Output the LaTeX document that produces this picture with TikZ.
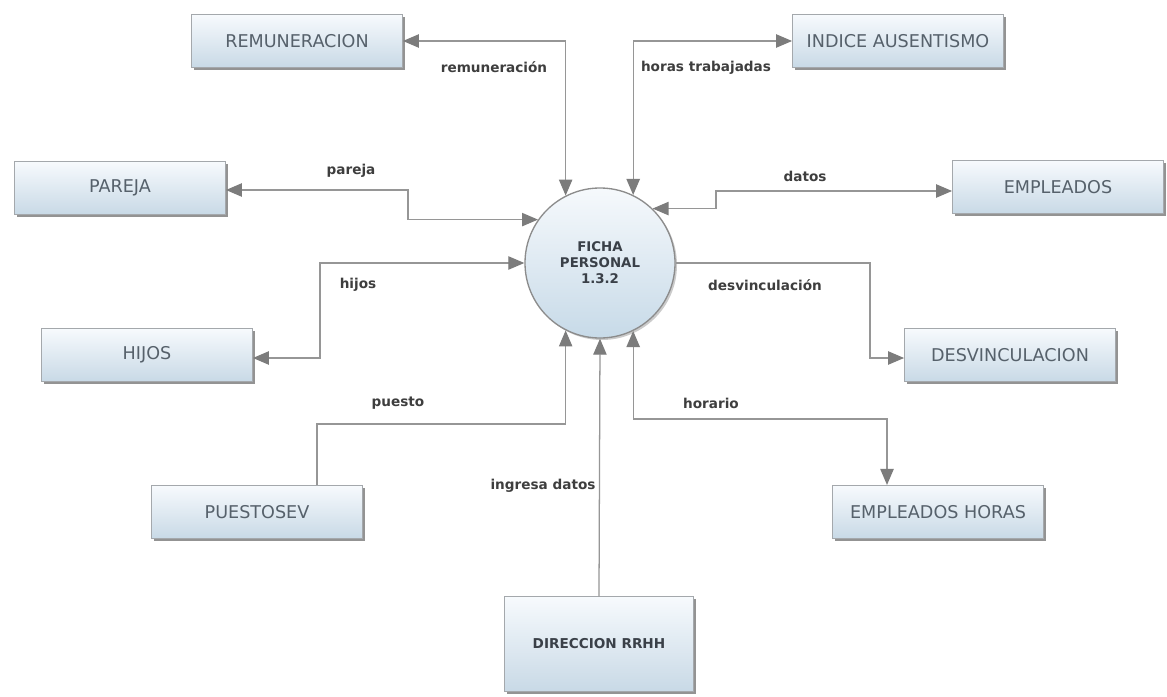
\documentclass[tikz,border=0pt]{standalone}
\usepackage{fontspec}
\setmainfont{DejaVu Sans}
\usetikzlibrary{arrows.meta,shadows,calc}
\definecolor{boxtop}{HTML}{F7FAFD}
\definecolor{boxbot}{HTML}{C8D9E6}
\definecolor{boxline}{HTML}{A4A8AC}
\definecolor{boxtext}{HTML}{56616B}
\definecolor{lbltext}{HTML}{3E3E3E}
\definecolor{flowcol}{HTML}{969696}
\definecolor{headcol}{HTML}{7C7C7C}
\definecolor{circtop}{HTML}{F6F9FC}
\definecolor{circbot}{HTML}{C7DAE8}
\definecolor{circline}{HTML}{8C8C8C}
\definecolor{strongtext}{HTML}{3A4048}
\tikzset{
  entity/.style={rectangle, draw=boxline, line width=0.6pt,
    top color=boxtop, bottom color=boxbot,
    minimum width=158.25pt, minimum height=40pt, inner sep=0pt,
    drop shadow={shadow xshift=2pt, shadow yshift=-2pt, fill=black!60, opacity=0.7},
    text=boxtext, font=\fontsize{13.2}{15}\selectfont},
  bigentity/.style={entity, minimum width=141.75pt, minimum height=71pt,
    text=strongtext, font=\bfseries\fontsize{10.2}{12}\selectfont},
  process/.style={circle, draw=circline, line width=1pt,
    top color=circtop, bottom color=circbot,
    minimum size=112.5pt, inner sep=0pt, align=center,
    drop shadow={shadow xshift=1.5pt, shadow yshift=-1.5pt, fill=black!40, opacity=0.5},
    text=strongtext, font=\bfseries\fontsize{10}{12}\selectfont},
  flowlabel/.style={inner sep=1pt, text=lbltext, font=\bfseries\fontsize{10.2}{12}\selectfont},
  flow/.style={draw=flowcol, line width=0.95pt,
    arrows={-Triangle[length=12pt, width=10pt, color=headcol]}},
  flowboth/.style={flow,
    arrows={Triangle[length=12pt, width=10pt, color=headcol]-Triangle[length=12pt, width=10pt, color=headcol]}}
}
\begin{document}
\begin{tikzpicture}[x=0.75pt,y=-0.75pt]
\useasboundingbox (0,0) rectangle (1167,696);
\fill[white] (0,0) rectangle (1167,696);

% process
\node[process] (circ) at (600,263) {FICHA\\PERSONAL\\1.3.2};

% entities
\node[entity] (rem)  at (297,41)  {REMUNERACION};
\node[entity] (ind)  at (898,41)  {INDICE AUSENTISMO};
\node[entity] (par)  at (120,188) {PAREJA};
\node[entity] (emp)  at (1058,187) {EMPLEADOS};
\node[entity] (hij)  at (147,355) {HIJOS};
\node[entity] (desv) at (1010,355) {DESVINCULACION};
\node[entity] (pue)  at (257,512) {PUESTOSEV};
\node[entity] (emph) at (938,512) {EMPLEADOS HORAS};
\node[bigentity] (dir) at (599,644) {DIRECCION RRHH};

% bend points
\coordinate (pj) at (408,190);
\coordinate (hj) at (320,358);
\coordinate (dt) at (716,191);
\coordinate (dv) at (870,358);
\coordinate (pu) at (317,424);
\coordinate (hr) at (887,419);

% flows
\draw[flowboth] (circ.117) |- (rem.east);
\draw[flowboth] (circ.64) |- (ind.west);
\draw[flowboth] (par.east |- pj) -- (pj) |- (circ.145);
\draw[flowboth] (circ.west) -| (hj) -- (hij.east |- hj);
\draw[flowboth] (circ.46) -| (dt) -- (emp.west |- dt);
\draw[flow] (circ.east) -| (dv) -- (desv.west |- dv);
\draw[flow] (pue.north -| pu) -- (pu) -| (circ.243);
\draw[flow] (dir.north) -- (circ.south);
\draw[flowboth] (circ.296) |- (hr) -- (emph.north -| hr);

% labels
\node[flowlabel] (lrem) at (494,67)  {remuneración};
\node[flowlabel] (lhor) at (706,68)  {horas trabajadas};
\node[flowlabel] (lpar) at (351,171) {pareja};
\node[flowlabel] (ldat) at (805,176) {datos};
\node[flowlabel] (lhij) at (358,285) {hijos};
\node[flowlabel] (ldes) at (765,285) {desvinculación};
\node[flowlabel] (lpue) at (398,403) {puesto};
\node[flowlabel] (lhro) at (711,403) {horario};
\node[flowlabel] (ling) at (543,486) {ingresa datos};
\end{tikzpicture}
\end{document}
